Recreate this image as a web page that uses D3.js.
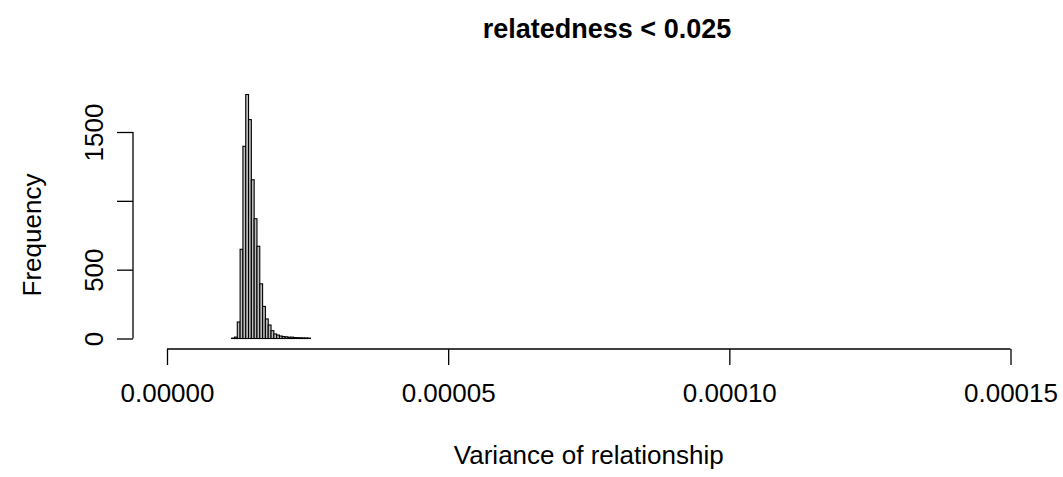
<!DOCTYPE html>
<html>
<head>
<meta charset="utf-8">
<script src="https://cdn.jsdelivr.net/npm/d3@7"></script>
<style>
  html, body { margin: 0; padding: 0; background: #ffffff; }
  svg { display: block; font-family: "Liberation Sans", Arial, Helvetica, sans-serif; }
</style>
</head>
<body>
<svg id="chart" width="1063" height="477"></svg>
<script>
// Histogram bin edges (lower / upper) and counts
const binLower = [11.5e-6, 12.0e-6, 12.5e-6, 13.0e-6, 13.5e-6, 14.0e-6, 14.5e-6, 15.0e-6,
                  15.5e-6, 16.0e-6, 16.5e-6, 17.0e-6, 17.5e-6, 18.0e-6, 18.5e-6, 19.0e-6,
                  19.5e-6, 20.0e-6, 20.5e-6, 21.0e-6, 21.5e-6, 22.0e-6, 22.5e-6, 23.0e-6,
                  23.5e-6, 24.0e-6, 24.5e-6, 25.0e-6];
const binUpper = [12.0e-6, 12.5e-6, 13.0e-6, 13.5e-6, 14.0e-6, 14.5e-6, 15.0e-6, 15.5e-6,
                  16.0e-6, 16.5e-6, 17.0e-6, 17.5e-6, 18.0e-6, 18.5e-6, 19.0e-6, 19.5e-6,
                  20.0e-6, 20.5e-6, 21.0e-6, 21.5e-6, 22.0e-6, 22.5e-6, 23.0e-6, 23.5e-6,
                  24.0e-6, 24.5e-6, 25.0e-6, 25.5e-6];
const counts = [3, 10, 120, 648, 1396, 1772, 1590, 1153,
                870, 670, 397, 233, 142, 98, 57, 33,
                25, 18, 14, 12, 9, 10, 7, 6,
                5, 4, 4, 3];

// Axis ticks and labels
const xTicks = [0, 0.00005, 0.0001, 0.00015];
const xTickLabels = ["0.00000", "0.00005", "0.00010", "0.00015"];
const yTicks = [0, 500, 1000, 1500];
const yTickLabels = ["0", "500", "", "1500"];

const titleText = "relatedness < 0.025";
const xTitle = "Variance of relationship";
const yTitle = "Frequency";

const svg = d3.select("#chart");

const x = d3.scaleLinear().domain([0, 0.00015]).range([167, 1010.5]);
const y = d3.scaleLinear().domain([0, 1500]).range([338.5, 132]);

const axisY = 349;   // x-axis line position
const axisX = 133;   // y-axis line position
const tickLen = 16;
const fontSize = 26;

// Bars
const bins = counts.map((c, i) => ({ x0: binLower[i], x1: binUpper[i], n: c }));
svg.append("g")
  .selectAll("rect")
  .data(bins)
  .join("rect")
  .attr("x", d => x(d.x0))
  .attr("y", d => y(d.n))
  .attr("width", d => x(d.x1) - x(d.x0))
  .attr("height", d => y(0) - y(d.n))
  .attr("fill", "#bdbdbd")
  .attr("stroke", "#000")
  .attr("stroke-width", 1.1);

// X axis
const xAxis = d3.axisBottom(x)
  .tickValues(xTicks)
  .tickSize(tickLen)
  .tickFormat((d, i) => xTickLabels[i]);
const gx = svg.append("g").attr("transform", `translate(0,${axisY})`).call(xAxis);
gx.select(".domain").attr("d", `M${x(xTicks[0])},0H${x(xTicks[xTicks.length - 1])}`)
  .attr("stroke", "#000").attr("stroke-width", 1.3);
gx.selectAll(".tick line").attr("stroke", "#000").attr("stroke-width", 1.3);
gx.selectAll(".tick text")
  .attr("y", 53)
  .attr("dy", null)
  .attr("fill", "#000")
  .style("font-size", fontSize + "px")
  .style("font-family", "'Liberation Sans', Arial, sans-serif");

// Y axis
const yAxis = d3.axisLeft(y)
  .tickValues(yTicks)
  .tickSize(tickLen)
  .tickFormat((d, i) => yTickLabels[i]);
const gy = svg.append("g").attr("transform", `translate(${axisX},0)`).call(yAxis);
gy.select(".domain").attr("d", `M0,${y(yTicks[0])}V${y(yTicks[yTicks.length - 1])}`)
  .attr("stroke", "#000").attr("stroke-width", 1.3);
gy.selectAll(".tick line").attr("stroke", "#000").attr("stroke-width", 1.3);
gy.selectAll(".tick text")
  .attr("x", null)
  .attr("dy", null)
  .attr("text-anchor", "middle")
  .attr("transform", "translate(-30,0) rotate(-90)")
  .attr("y", 0)
  .attr("fill", "#000")
  .style("font-size", fontSize + "px")
  .style("font-family", "'Liberation Sans', Arial, sans-serif");

// Title
svg.append("text")
  .attr("x", 607)
  .attr("y", 38)
  .attr("text-anchor", "middle")
  .attr("font-weight", "bold")
  .attr("font-size", 27)
  .attr("fill", "#000")
  .text(titleText);

// Axis titles
svg.append("text")
  .attr("x", (x(0) + x(0.00015)) / 2)
  .attr("y", 464)
  .attr("text-anchor", "middle")
  .attr("font-size", fontSize)
  .attr("fill", "#000")
  .text(xTitle);

svg.append("text")
  .attr("transform", `translate(${axisX - 92},235) rotate(-90)`)
  .attr("text-anchor", "middle")
  .attr("font-size", fontSize)
  .attr("fill", "#000")
  .text(yTitle);
</script>
</body>
</html>
